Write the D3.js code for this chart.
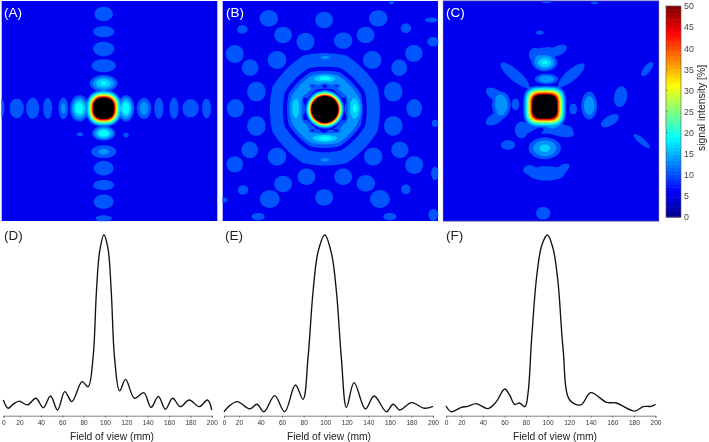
<!DOCTYPE html>
<html>
<head>
<meta charset="utf-8">
<script src="https://cdn.jsdelivr.net/npm/d3@7"></script>
<style>
html,body{margin:0;padding:0;background:#fff;overflow:hidden}
svg{display:block;filter:blur(0.4px)}
text{font-family:"Liberation Sans",Arial,sans-serif}
</style>
</head>
<body>
<svg id="chart" width="709" height="442"></svg>
<script>
// ---------- data ----------
const panelLabelsTop = ["(A)", "(B)", "(C)"];
const panelLabelsBottom = ["(D)", "(E)", "(F)"];
const xTickValues = [0,20,40,60,80,100,120,140,160,180,200];
const colorTicks = [0,5,10,15,20,25,30,35,40,45,50];
const contourLevels = [10,13,16,18.5,21,24,27,30,33,36,39,42,45,48];
const xAxisTitle = "Field of view (mm)";
const colorTitle = "signal intensity [%]";

// heat map lobes: [x mm, y mm, radius x mm, radius y mm, rotation deg, peak %, shape exponent]
const lobesA = [
 [94.6,97.6,16.5,16.5,0,115,2.5],
 [94.6,11.8,8.7,6.7,0,11.5],[94.6,27.9,9.9,5.2,0,12],[94.6,43.6,9.9,6.7,0,11.5],[94.6,58.8,11.4,6,0,13],[94.6,74.8,13,7.6,0,19],
 [94.6,120.3,10.8,6.7,0,21],[94.6,137,11.7,6,0,13.8],[94.6,152,9.3,6.7,0,11.5],[94.6,167.3,9.9,4.8,0,12.5],[94.6,182.4,9.3,6.7,0,12.5],[94.6,197.6,7.7,3,0,12],
 [0,97.6,2.5,9.1,0,11],[13.9,97.6,6.8,9.1,0,10.8],[28.7,97.6,6.2,9.7,0,13],[42.6,97.6,4.3,9.7,0,13],[57.2,97.6,4.6,10,0,14],[72,97.6,8.7,12.1,0,21],
 [115.3,97.6,7.7,12.1,0,21],[132,97.6,6.8,9.7,0,15],[145.8,97.6,4.3,9.7,0,13],[159.8,97.6,4.3,9.7,0,13],[175.2,97.6,7.7,8.5,0,10.8],[190,97.6,4.3,9.1,0,10.8],
 [72.6,121.2,3.1,2.1,0,11],[115.3,121.8,2.8,2.4,0,11]
];
const lobesB = [
 [94.9,98.5,18,17.6,0,215,2],
 [94.9,70.3,12.4,4.2,0,19],[94.9,124.8,14,4.5,0,19],[122.8,97.6,6.8,12,0,18],[67.6,97.6,5.6,12,0,16],[94.9,51.2,7.8,3,0,12.5],[94.9,144.5,7.8,3,0,12.5],
 [42.8,15.8,8.7,7.6,0,11.5],[94.2,17.3,8.4,7.6,0,11.5],[144.5,15.8,8.7,7.6,0,11.5],[18.3,25.8,5,4,0,11.5],[56.1,30.9,8.4,7.6,0,11.5],[76.9,37,8.4,8.2,0,11.5],
 [111.9,36.1,8.7,7.6,0,11.5],[132.7,30.9,8.4,7.6,0,11.5],[170.2,24.8,5,4.5,0,11.5],[11.2,48.2,8.4,8.2,0,11.5],[25.4,60.6,7.8,7.6,0,11.5],[50.5,53.6,8.7,8.2,0,11.5],
 [138.9,53.6,8.7,8.2,0,11.5],[164,60.6,7.4,7.6,0,11.5],[177.6,47.6,8.1,7.9,0,11.5],[195.6,37,5.6,4.5,0,11.5],[31.3,82.4,8.7,9.1,0,11.5],[158.4,82.4,8.7,9.1,0,12.5],
 [11.8,97.6,8.1,8.5,0,11.5],[177.9,97.6,7.4,8.5,0,11.5],[31.3,113.6,8.7,9.1,0,11.5],[158.4,113.6,8.7,9.1,0,11.5],[11.2,148.5,7.8,7.3,0,11.5],[25.1,135.4,7.8,7.6,0,11.5],
 [50.5,141.5,8.7,8.2,0,11.5],[139.8,141.5,8.7,8.2,0,11.5],[164.6,135.4,8.1,7.6,0,11.5],[177.9,149.1,8.4,8.2,0,11.5],[77.8,159.7,8.4,7.6,0,11.5],[111.9,159.7,8.4,7.6,0,11.5],
 [56.1,166.3,8.4,7.6,0,11.5],[133,165.7,8.7,7.6,0,11.5],[18.9,171.8,5,4.5,0,11.5],[170.2,171.2,4.6,4.5,0,11.5],[43.7,180,9.3,8.2,0,11.5],[94.2,178.5,8.4,7.6,0,11.5],
 [146,180,9.3,8.2,0,11.5],[32.9,196,6.2,3.6,0,11.5],[155.3,196,6.2,3.6,0,11.5],[195.6,194.5,4.6,5.5,0,12],[197.2,156.7,3.7,6,0,11.5],[197.2,111.2,3.1,3.6,0,11.5],
 [194,17.3,6.2,2.4,0,11.5],[156.9,1.5,2.5,1.8,0,11.5],[1.9,180.9,2.5,2.4,0,11.5]
];
// rings of panel B: [x mm, y mm, radius mm, half width mm, peak %]
const ringsB = [[94.9,98.5,27,8.2,15],[94.9,98.5,45,6.2,10.8]];
// local dips: [x mm, y mm, radius x mm, radius y mm, rotation deg, strength 0..1]
const dipsB = [
 [83.5,77,3,1.6,0,0.32],[94.9,77,3,1.6,0,0.32],[106,77,3,1.6,0,0.32],
 [113.5,90,1.6,3,0,0.32],[113.5,106,1.6,3,0,0.32],
 [106,118,3,1.6,0,0.32],[94,118.5,3,1.6,0,0.32],[83,118,3,1.6,0,0.32],
 [76,106,1.6,3,0,0.32],[76,90,1.6,3,0,0.32]
];
const lobesC = [
 [94.2,96,20,19,0,110,3.6],
 [94.2,56,11.8,7.9,0,19],[95.8,70.9,10.9,4.8,0,16],[89.6,28.8,3.7,2.1,0,11],[107,45,8.5,4.5,-25,11],[84.9,49,5.5,6.5,0,11],[95,47,14,5,-5,11],
 [53.9,94.5,8.7,12.1,0,16],[48,85,9.5,5,30,11],[48,107,9.5,5,-30,11],[67,93.9,3.7,5.5,0,11],[135.5,95.1,7.4,12.7,0,16],[120.6,98.2,3.7,5.2,0,11.5],
 [164.6,87,6.2,9.7,10,11],[154.7,108.8,9.3,4.6,-30,11],[189.4,61.8,8.1,3.4,-50,11],[184.1,127.3,9.9,2.8,40,11],[66.3,67.3,17,5.2,40,11.5],[119,67.3,15.5,5.2,-40,11.5],
 [94.2,133.9,15,10,0,17],[72.5,117.3,6.2,7.6,0,11],[106.6,117.3,15.5,5.5,15,11.5],[94,116,26,5,0,11],[60.1,130.9,6.8,4.5,0,11],[95.8,156.7,17,6.7,0,11],[80.3,153.6,6.2,4.5,0,11],
 [109.7,153.6,8.7,4,-35,11],[92.7,193,6.8,6,0,11],[95.8,0.6,5,1.5,0,11],[140.7,1.5,3.7,1.5,0,11]
];
const dipsC = [[88,118,5,1.8,-25,0.6]];

// profiles: field of view (mm) and normalised signal (%)
const profileDx = [0,6,12,19.6,27.3,35.4,42.2,49,55.6,62.4,69,78.6,84.2,88.8,92,95,99,102.8,105.9,109,113.7,119.3,127.6,136.3,143.2,150,156.5,163.4,170.5,178.9,188.2,196,200];
const profileDy = [5.7,1,3.2,5.1,2.9,6.7,1.3,8,0,10.5,4.8,16.2,13.3,29.5,67.6,90.5,100,92.4,67.6,29.5,10.9,17.5,6.7,9.9,1.5,7.8,0.4,6.7,1.9,5.7,1.9,5.7,0];
const profileEx = [0,7.5,17.8,29.9,36.7,43.2,53.1,62.4,72.3,79.4,84,88.7,93.4,99.6,105.8,110.4,115,119.7,126.8,137.3,145.4,156.8,163,169.2,180,191.8,200];
const profileEy = [-1,2.5,4.8,0.6,3.3,-1,8.2,-1,14.3,6.1,29.5,67.6,90.5,100,89.5,67.6,29.5,1.5,15.6,0.6,8,-1,3.3,0,4.2,1,2.1];
const profileFx = [0,7,20,26,33.9,44.7,52.5,60.2,64.8,69.5,74,79,82,85,90,94.7,99.8,105,109.6,114.3,120.5,130.7,140,154.5,163.7,180.7,188.5,196,200];
const profileFy = [2.3,-1,1.5,2.1,3.6,0.8,4.8,12,8.5,3.2,4,1.9,10.5,39,77,94.3,100,92.4,73.3,35.2,5.7,2.9,9.9,4.4,4,-0.6,1.9,2.1,3.2];

// ---------- scales & layout ----------
const svg = d3.select("#chart");
const jet = d3.scaleLinear().domain([0,6.25,18.75,31.25,43.75,50])
  .range(["#00008f","#0000ff","#00ffff","#ffff00","#ff0000","#800000"]);
const fov = [0,200];
const heatRows = [1,221];
const heatCols = [[1.7,217.3],[222.7,438],[443.3,658.7]];
const heatBorder = ["none","none","#2222b0"];
const T0 = 10;

function normDist(dx,dy,l){
  const a=(l[4]||0)*Math.PI/180;
  const u=(dx*Math.cos(a)+dy*Math.sin(a))/l[2], w=(-dx*Math.sin(a)+dy*Math.cos(a))/l[3];
  const n=l[6]||2;
  return Math.pow(Math.pow(Math.abs(u),n)+Math.pow(Math.abs(w),n),2/n);
}
function lobeValue(mx,my,l){
  const d2=normDist(mx-l[0],my-l[1],l);
  if(d2<1) return l[5]*Math.exp(-Math.log(l[5]/T0)*d2);
  return T0*Math.exp(-2.2*(d2-1));
}
function ringValue(mx,my,r){
  const dx=Math.abs(mx-r[0]), dy=Math.abs(my-r[1]);
  const oct=Math.max(dx,dy,(dx+dy)/Math.SQRT2);
  const rn=0.55*Math.hypot(dx,dy)+0.45*oct;
  const d=(rn-r[2])/r[3], d2=d*d;
  if(d2<1) return r[4]*Math.exp(-Math.log(r[4]/T0)*d2);
  return T0*Math.exp(-2.2*(d2-1));
}
function drawHeat(col, lobes, rings, dips, border){
  const x=d3.scaleLinear().domain(fov).range(col);
  const y=d3.scaleLinear().domain(fov).range(heatRows);
  const nx=Math.round(col[1]-col[0])*2, ny=Math.round(heatRows[1]-heatRows[0])*2;
  const values=new Float64Array(nx*ny);
  const gx=d3.scaleLinear().domain([0,nx-1]).range(fov);
  const gy=d3.scaleLinear().domain([0,ny-1]).range(fov);
  for(let j=0;j<ny;j++){for(let i=0;i<nx;i++){
    const mx=gx(i), my=gy(j);
    let s=0;
    for(const l of lobes) s+=Math.pow(lobeValue(mx,my,l),5);
    for(const r of rings) s+=Math.pow(ringValue(mx,my,r),5);
    let v=Math.pow(s,0.2);
    for(const q of dips) v*=1-q[5]*Math.exp(-normDist(mx-q[0],my-q[1],q));
    values[j*nx+i]=v;
  }}
  const g=svg.append("g");
  g.append("rect").attr("x",col[0]).attr("y",heatRows[0]).attr("width",col[1]-col[0]).attr("height",heatRows[1]-heatRows[0]).attr("fill",jet(5.4));
  const levels=contourLevels.concat([50]);
  const cs=d3.contours().size([nx,ny]).thresholds(levels)(values);
  const proj=d3.geoTransform({point(px,py){this.stream.point(x(gx(px-0.5)),y(gy(py-0.5)));}});
  const path=d3.geoPath(proj);
  g.selectAll("path").data(cs).join("path").attr("d",path)
    .attr("fill",d=>d.value>=50?"#000":jet(d.value+0.4));
  g.append("rect").attr("x",col[0]).attr("y",heatRows[0]).attr("width",col[1]-col[0]).attr("height",heatRows[1]-heatRows[0])
    .attr("fill","none").attr("stroke",border).attr("stroke-width",0.8);
}
drawHeat(heatCols[0],lobesA,[],[],heatBorder[0]);
drawHeat(heatCols[1],lobesB,ringsB,dipsB,heatBorder[1]);
drawHeat(heatCols[2],lobesC,[],dipsC,heatBorder[2]);

panelLabelsTop.forEach((t,i)=>{
  svg.append("text").attr("x",[4,226,446][i]).attr("y",17).attr("fill","#fff").attr("font-size",13.5).text(t);
});

// colour bar
const cbX=[666,681], cbY=[217,6];
const cb=d3.scaleLinear().domain([0,50]).range(cbY);
const steps=d3.range(0,50,50/64);
svg.append("g").selectAll("rect").data(steps).join("rect")
  .attr("x",cbX[0]).attr("width",cbX[1]-cbX[0])
  .attr("y",d=>cb(d+50/64)).attr("height",d=>cb(d)-cb(d+50/64)+0.5)
  .attr("fill",d=>jet(d+25/64));
const cbAxis=svg.append("g").attr("transform",`translate(${cbX[1]},0)`)
  .call(d3.axisRight(cb).tickValues(colorTicks).tickSize(0).tickPadding(3));
cbAxis.select(".domain").remove();
cbAxis.selectAll("text").attr("font-size",8.8).attr("fill","#444").style("font-family",'"Liberation Sans",Arial,sans-serif');
svg.append("rect").attr("x",cbX[0]).attr("y",cbY[1]).attr("width",cbX[1]-cbX[0]).attr("height",cbY[0]-cbY[1]).attr("fill","none").attr("stroke","#555").attr("stroke-width",0.6);
svg.append("g").selectAll("line").data(colorTicks).join("line")
  .attr("x1",cbX[0]).attr("x2",cbX[0]+1.5).attr("y1",d=>cb(d)).attr("y2",d=>cb(d)).attr("stroke","#333").attr("stroke-width",0.5);
svg.append("text").attr("transform","translate(705,108) rotate(-90)").attr("text-anchor","middle").attr("font-size",10.4).attr("fill","#222").text(colorTitle);

// line profiles
const axisY=415.7;
const profY=d3.scaleLinear().domain([0,100]).range([410,235]);
const profileCols=[[3.3,19.5,211.8],[224,239,433],[446,461.3,655.5]];
const profiles=[[profileDx,profileDy],[profileEx,profileEy],[profileFx,profileFy]];
const profileLabelX=[4,225,446];
const profileTitleX=[112,329,555];
profiles.forEach((p,i)=>{
  const x=d3.scaleLinear().domain([0,20,200]).range(profileCols[i]);
  const line=d3.line().x(d=>x(d[0])).y(d=>profY(d[1])).curve(d3.curveCatmullRom.alpha(0.5));
  svg.append("path").datum(d3.zip(p[0],p[1])).attr("d",line).attr("fill","none").attr("stroke","#111").attr("stroke-width",1.35);
  const ax=svg.append("g").attr("transform",`translate(0,${axisY})`)
    .call(d3.axisBottom(x).tickValues(xTickValues).tickSize(2).tickPadding(2.5).tickFormat(d3.format("d")));
  ax.select(".domain").attr("stroke","#333").attr("stroke-width",0.6);
  ax.selectAll("line").attr("stroke","#333").attr("stroke-width",0.5);
  ax.selectAll("text").attr("font-size",6.6).attr("fill","#333").style("font-family",'"Liberation Sans",Arial,sans-serif');
  svg.append("text").attr("x",profileTitleX[i]).attr("y",439.5).attr("text-anchor","middle").attr("font-size",10.3).attr("fill","#222").text(xAxisTitle);
  svg.append("text").attr("x",profileLabelX[i]).attr("y",240).attr("font-size",13.5).attr("fill","#222").text(panelLabelsBottom[i]);
});
</script>
</body>
</html>
